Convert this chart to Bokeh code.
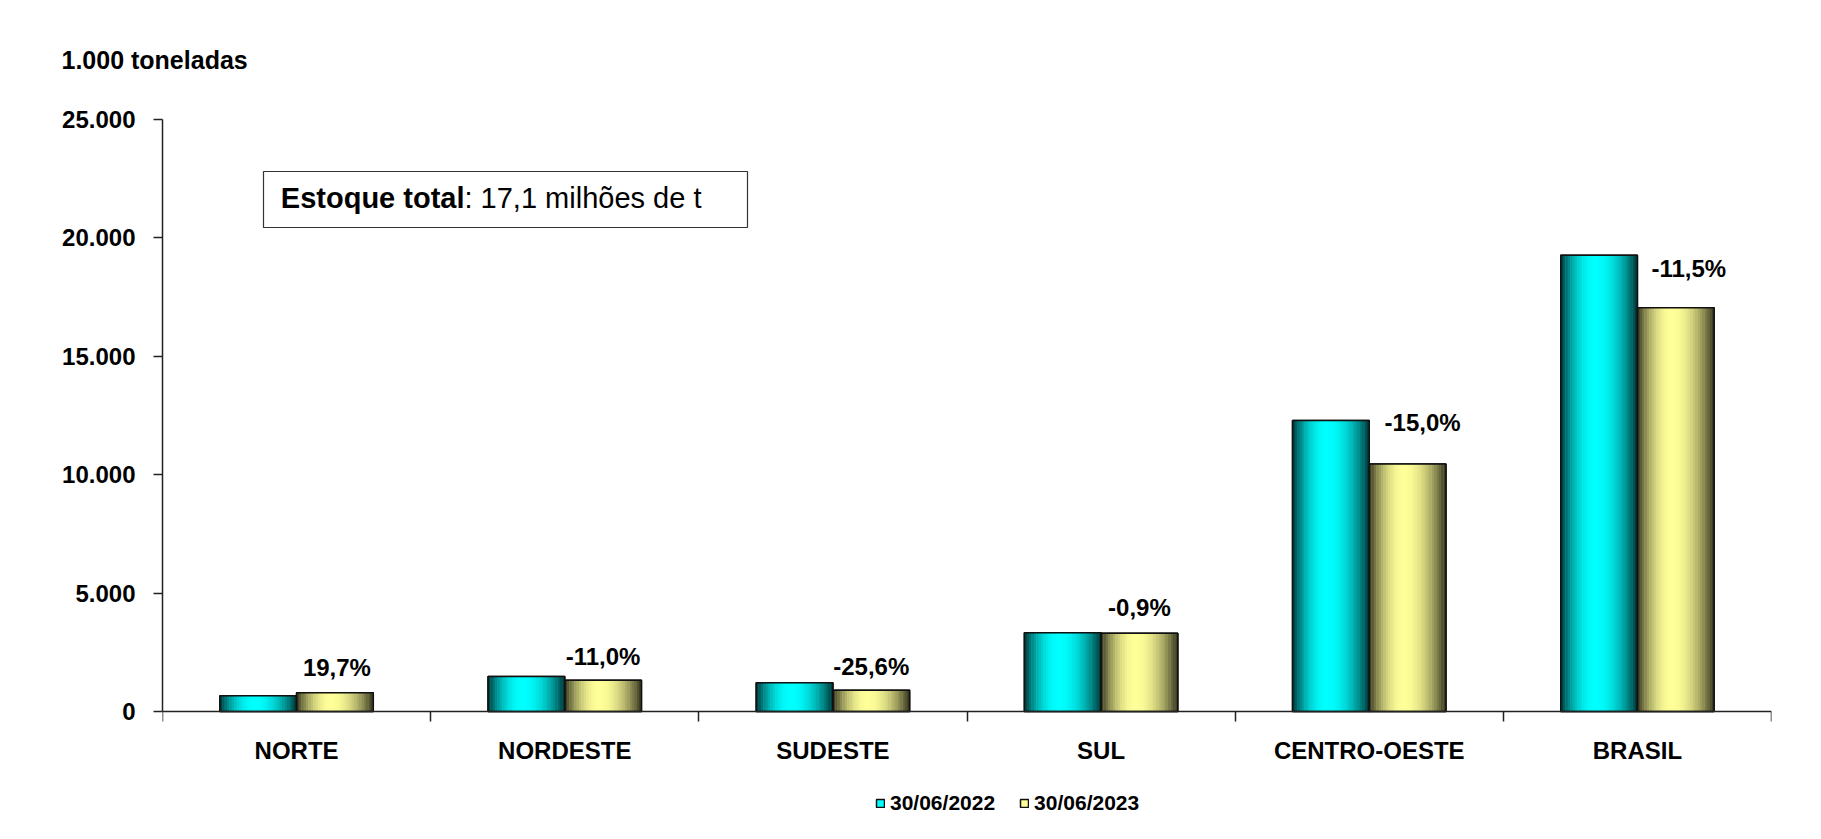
import numpy as np
from bokeh.plotting import figure
from bokeh.models import (ColumnDataSource, Range1d, LinearAxis, FixedTicker, Label, Title,
                          BoxAnnotation, Legend, LegendItem)
from bokeh.transform import dodge
from bokeh.core.properties import value
from bokeh.embed import file_html
from bokeh.resources import INLINE

# ---------------- data ----------------
categories = ["NORTE", "NORDESTE", "SUDESTE", "SUL", "CENTRO-OESTE", "BRASIL"]
estoque_2022 = [660, 1480, 1212, 3330, 12290, 19270]
estoque_2023 = [790, 1317, 902, 3300, 10450, 17050]
variacao = ["19,7%", "-11,0%", "-25,6%", "-0,9%", "-15,0%", "-11,5%"]
series_labels = ["30/06/2022", "30/06/2023"]
y_ticks = [0, 5000, 10000, 15000, 20000, 25000]
y_tick_labels = ["0", "5.000", "10.000", "15.000", "20.000", "25.000"]
y_unit = "1.000 toneladas"
box_bold = "Estoque total"
box_text = ": 17,1 milhões de t"

# ---------------- layout / style ----------------
FONT = "Liberation Sans"
BW = 0.286          # bar width (fraction of category slot)
N_STRIPS = 32
base_rgb = [(0, 255, 255), (255, 255, 153)]
fields = ["v2022", "v2023"]
pct_dx = [2, 0, 0, 0, 15, 13]
pct_dy = [-25, -24, -24, -26, -42, -39]

W, H = 1813, 831
FRAME_TOP, FRAME_BOTTOM = 78, 823          # page pixels
ZERO_PX, TOP_TICK_PX = 711, 119            # where 0 and 25000 sit
y_max_tick = y_ticks[-1]
ppu = (ZERO_PX - TOP_TICK_PX) / y_max_tick
y_lo = -(FRAME_BOTTOM - ZERO_PX) / ppu
y_hi = y_max_tick + (TOP_TICK_PX - FRAME_TOP) / ppu

n = len(categories)
centers = [i + 0.5 for i in range(n)]
bounds = list(range(n + 1))
src = ColumnDataSource(dict(pos=centers, cat=categories, v2022=estoque_2022, v2023=estoque_2023,
                            pct=variacao, dx=pct_dx, dy=pct_dy))

p = figure(x_range=Range1d(0, n), y_range=Range1d(y_lo, y_hi), width=W, height=H,
           output_backend="svg", toolbar_location=None, x_axis_location=None,
           min_border_left=162, min_border_right=42,
           min_border_top=FRAME_TOP, min_border_bottom=H - FRAME_BOTTOM)
p.outline_line_color = None
p.grid.grid_line_color = None
p.background_fill_color = "white"
p.border_fill_color = "white"

# y axis
ya = p.yaxis[0]
ya.ticker = FixedTicker(ticks=y_ticks)
ya.bounds = (0, y_max_tick)
ya.major_label_overrides = {t: l for t, l in zip(y_ticks, y_tick_labels)}
ya.major_tick_out = 9
ya.major_tick_in = 0
ya.minor_tick_line_color = None
ya.axis_line_color = "#222222"
ya.axis_line_width = 1.5
ya.major_tick_line_color = "#222222"
ya.major_tick_line_width = 1.5
ya.major_label_standoff = 18
ya.major_label_text_font = FONT
ya.major_label_text_font_style = "bold"
ya.major_label_text_font_size = "24px"
ya.major_label_text_color = "black"

# x axis at y = 0: labels at category centres, tick marks at category boundaries
xa = LinearAxis(ticker=FixedTicker(ticks=centers, minor_ticks=bounds), fixed_location=0,
                major_label_overrides={c: name for c, name in zip(centers, categories)},
                axis_line_color="#222222", axis_line_width=1.5,
                major_tick_line_color=None, major_tick_out=0, major_tick_in=0,
                minor_tick_line_color="#222222", minor_tick_line_width=1.5,
                minor_tick_out=10, minor_tick_in=0,
                major_label_standoff=15, major_label_text_font=FONT,
                major_label_text_font_style="bold", major_label_text_font_size="24px",
                major_label_text_color="black")
p.add_layout(xa, "below")


def profile(t):
    c = 0.45
    d = abs(t - c) / (c if t < c else 1 - c)
    return 0.2 + 0.8 * (1 - d ** 2)


def hexcol(rgb, f):
    return "#%02x%02x%02x" % tuple(int(round(v * f)) for v in rgb)


base_renderers = []
for s in range(2):
    center = (s - 0.5) * BW
    r = p.vbar(x=dodge("pos", center), top=fields[s], bottom=0, width=BW,
               source=src, fill_color=hexcol(base_rgb[s], 1.0), line_color="#111111", line_width=1.5)
    base_renderers.append(r)

for s in range(2):
    for k in range(N_STRIPS):
        t = (k + 0.5) / N_STRIPS
        off = (s - 1) * BW + t * BW
        p.vbar(x=dodge("pos", off), top=fields[s], bottom=0,
               width=BW / N_STRIPS * 1.15, source=src,
               fill_color=hexcol(base_rgb[s], profile(t)), line_color=None)

for s in range(2):
    center = (s - 0.5) * BW
    p.vbar(x=dodge("pos", center), top=fields[s], bottom=0, width=BW,
           source=src, fill_color=None, line_color="#111111", line_width=1.5)

# percentage labels
p.text(x=dodge("pos", BW / 2), y="v2023", text="pct", x_offset="dx", y_offset="dy",
       source=src, text_align="center", text_baseline="middle", text_font=value(FONT),
       text_font_style="bold", text_font_size="24px", text_color="black")

# unit label (as a left-aligned title)
p.add_layout(Title(text=y_unit, align="left", offset=-101, text_font=FONT, text_font_style="bold",
                   text_font_size="25px", text_color="black"), "above")

# info box (screen units measured from the frame's bottom-left corner)
def sy(page_y):
    return FRAME_BOTTOM - page_y

p.add_layout(BoxAnnotation(left=101, right=585, bottom=sy(227), top=sy(171),
                           left_units="screen", right_units="screen",
                           top_units="screen", bottom_units="screen",
                           fill_color="white", fill_alpha=1.0, line_color="#333333",
                           line_width=1.2, line_alpha=1.0))
p.add_layout(Label(x=302, y=sy(197), x_units="screen", y_units="screen", text=box_bold,
                   text_font=FONT, text_font_style="bold", text_font_size="29px",
                   text_align="right", text_baseline="middle", text_color="black"))
p.add_layout(Label(x=302, y=sy(197), x_units="screen", y_units="screen", text=box_text,
                   text_font=FONT, text_font_style="normal", text_font_size="29px",
                   text_align="left", text_baseline="middle", text_color="black"))

legend = Legend(items=[LegendItem(label=series_labels[s], renderers=[base_renderers[s]]) for s in range(2)],
                orientation="horizontal", location=(713, 8), glyph_width=10, glyph_height=10,
                label_standoff=5, spacing=24, padding=0, margin=0, border_line_color=None,
                background_fill_alpha=0, label_text_font=FONT, label_text_font_style="bold",
                label_text_font_size="21px", label_text_color="black")
p.add_layout(legend, "center")

open("out.html", "w").write(file_html(p, INLINE))
